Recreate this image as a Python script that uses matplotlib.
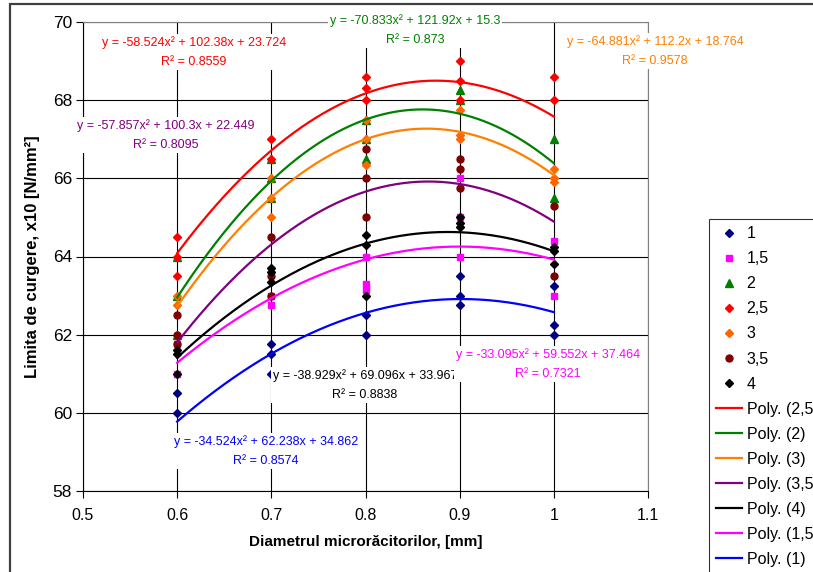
import numpy as np
import matplotlib
matplotlib.use("Agg")
import matplotlib.pyplot as plt
from matplotlib.patches import Rectangle

plt.rcParams['font.family'] = ['Liberation Sans', 'DejaVu Sans']

# measured points for each series (x = diameter, y = yield limit)
s1_x = [0.6, 0.6, 0.7, 0.7, 0.7, 0.8, 0.8, 0.9, 0.9, 0.9, 1.0, 1.0, 1.0]
s1_y = [60.5, 60.0, 61.75, 61.5, 61.0, 62.5, 62.0, 63.5, 63.0, 62.75, 63.25, 62.25, 62.0]

s15_x = [0.6, 0.6, 0.7, 0.7, 0.8, 0.8, 0.8, 0.9, 0.9, 0.9, 1.0, 1.0]
s15_y = [61.75, 61.0, 63.0, 62.75, 64.0, 63.3, 63.15, 66.0, 65.0, 64.0, 64.4, 63.0]

s2_x = [0.6, 0.6, 0.6, 0.7, 0.7, 0.7, 0.8, 0.8, 0.8, 0.9, 0.9, 1.0, 1.0]
s2_y = [64.0, 63.0, 62.0, 66.5, 66.0, 65.5, 67.5, 67.0, 66.5, 68.25, 68.0, 67.0, 65.5]

s25_x = [0.6, 0.6, 0.6, 0.7, 0.7, 0.8, 0.8, 0.8, 0.9, 0.9, 0.9, 1.0, 1.0]
s25_y = [64.5, 64.0, 63.5, 67.0, 66.5, 68.6, 68.3, 68.0, 69.0, 68.5, 68.0, 68.6, 68.0]

s3_x = [0.6, 0.6, 0.7, 0.7, 0.7, 0.8, 0.8, 0.8, 0.9, 0.9, 0.9, 1.0, 1.0, 1.0]
s3_y = [63.0, 62.75, 66.0, 65.5, 65.0, 67.5, 67.0, 66.35, 67.75, 67.1, 67.0, 66.25, 66.0, 65.9]

s35_x = [0.6, 0.6, 0.6, 0.7, 0.7, 0.7, 0.8, 0.8, 0.8, 0.9, 0.9, 0.9, 1.0, 1.0]
s35_y = [62.5, 62.0, 61.75, 64.5, 63.5, 63.0, 66.75, 66.0, 65.0, 66.5, 66.25, 65.75, 65.3, 63.5]

s4_x = [0.6, 0.6, 0.6, 0.7, 0.7, 0.7, 0.8, 0.8, 0.8, 0.9, 0.9, 0.9, 1.0, 1.0, 1.0]
s4_y = [61.6, 61.5, 61.0, 63.7, 63.6, 63.35, 64.55, 64.3, 63.0, 65.0, 64.85, 64.75, 64.25, 64.15, 63.8]

# second-order trend coefficients (a, b, c) and R^2
fit_25 = (-58.524, 102.38, 23.724, 0.8559)
fit_2 = (-70.833, 121.92, 15.3, 0.873)
fit_3 = (-64.881, 112.2, 18.764, 0.9578)
fit_35 = (-57.857, 100.3, 22.449, 0.8095)
fit_4 = (-38.929, 69.096, 33.967, 0.8838)
fit_15 = (-33.095, 59.552, 37.464, 0.7321)
fit_1 = (-34.524, 62.238, 34.862, 0.8574)

x_ticks = [0.5, 0.6, 0.7, 0.8, 0.9, 1.0, 1.1]
x_tick_labels = ['0.5', '0.6', '0.7', '0.8', '0.9', '1', '1.1']
y_ticks = [58, 60, 62, 64, 66, 68, 70]

W, H = 813, 572
fig = plt.figure(figsize=(W / 100, H / 100), dpi=100)
ax = fig.add_axes([83 / W, 1 - 491 / H, (648 - 83) / W, (491 - 22) / H])

ax.set_xlim(0.5, 1.1)
ax.set_ylim(58, 70)
ax.set_xticks(x_ticks)
ax.set_xticklabels(x_tick_labels)
ax.set_yticks(y_ticks)
ax.tick_params(axis='x', labelsize=11.5, length=5, width=0.8, pad=7, direction='out')
ax.tick_params(axis='y', labelsize=12.5, length=5, width=0.8, pad=3, direction='out')
ax.grid(True, color='black', linewidth=0.8, zorder=0)
ax.set_axisbelow(True)
for side in ('top', 'right'):
    ax.spines[side].set_color('#808080')
for side in ('left', 'bottom'):
    ax.spines[side].set_color('black')
for sp in ax.spines.values():
    sp.set_linewidth(0.8)

series = [
    ('1', s1_x, s1_y, 'D', '#000080', 4.0),
    ('1,5', s15_x, s15_y, 's', '#FF00FF', 4.5),
    ('2', s2_x, s2_y, '^', '#008000', 5.5),
    ('2,5', s25_x, s25_y, 'D', '#FF0000', 4.0),
    ('3', s3_x, s3_y, 'D', '#FF6600', 4.0),
    ('3,5', s35_x, s35_y, 'o', '#800000', 5.0),
    ('4', s4_x, s4_y, 'D', '#000000', 4.0),
]
handles = []
for name, xs, ys, mk, col, ms in series:
    h, = ax.plot(xs, ys, linestyle='none', marker=mk, color=col, markersize=ms,
                 label=name, zorder=3, clip_on=False)
    handles.append(h)

xf = np.linspace(0.6, 1.0, 200)
trends = [
    ('Poly. (2,5)', fit_25, '#FF0000'),
    ('Poly. (2)', fit_2, '#008000'),
    ('Poly. (3)', fit_3, '#FF7F00'),
    ('Poly. (3,5)', fit_35, '#800080'),
    ('Poly. (4)', fit_4, '#000000'),
    ('Poly. (1,5)', fit_15, '#FF00FF'),
    ('Poly. (1)', fit_1, '#0000FF'),
]
for name, (a, b, c, r2), col in trends:
    h, = ax.plot(xf, a * xf ** 2 + b * xf + c, color=col, linewidth=1.6,
                 label=name, zorder=4)
    handles.append(h)


def eq_text(a, b, c, r2):
    def num(v):
        return ('%g' % v)
    return 'y = %sx² + %sx + %s\nR² = %s' % (num(a), num(b), num(c), num(r2))


# equation labels, placed in pixel coordinates of the figure
labels = [
    (fit_25, '#FF0000', 194, 52),
    (fit_2, '#008000', 415, 30),
    (fit_3, '#FF7F00', 655, 51),
    (fit_35, '#800080', 166, 135),
    (fit_4, '#000000', 365, 385),
    (fit_15, '#FF00FF', 548, 364),
    (fit_1, '#0000FF', 266, 451),
]
for (a, b, c, r2), col, px, py in labels:
    fig.text(px / W, 1 - py / H, eq_text(a, b, c, r2), color=col, fontsize=9,
             ha='center', va='center', multialignment='center', linespacing=1.75,
             bbox=dict(facecolor='white', edgecolor='none', pad=1.5), zorder=10)

ax.set_xlabel('Diametrul microrăcitorilor, [mm]', fontsize=11, fontweight='bold',
              labelpad=9)
ax.set_ylabel('Limita de curgere, x10 [N/mm²]', fontsize=12, fontweight='bold',
              labelpad=9)

leg = fig.legend(handles=handles, loc='upper left',
                 bbox_to_anchor=(709 / W, 1 - 219 / H), fontsize=11.5,
                 frameon=True, fancybox=False, borderpad=0.45,
                 labelspacing=0.63, handlelength=1.6, handletextpad=0.3,
                 borderaxespad=0, markerscale=1.0)
leg.get_frame().set_edgecolor('black')
leg.get_frame().set_linewidth(0.8)

# outer chart border
fig.patches.append(Rectangle((10 / W, -0.1), 1.2, 1 - 4 / H + 0.1,
                             transform=fig.transFigure, fill=False,
                             edgecolor='#404040', linewidth=1.6))

fig.savefig('out.png', dpi=100)
